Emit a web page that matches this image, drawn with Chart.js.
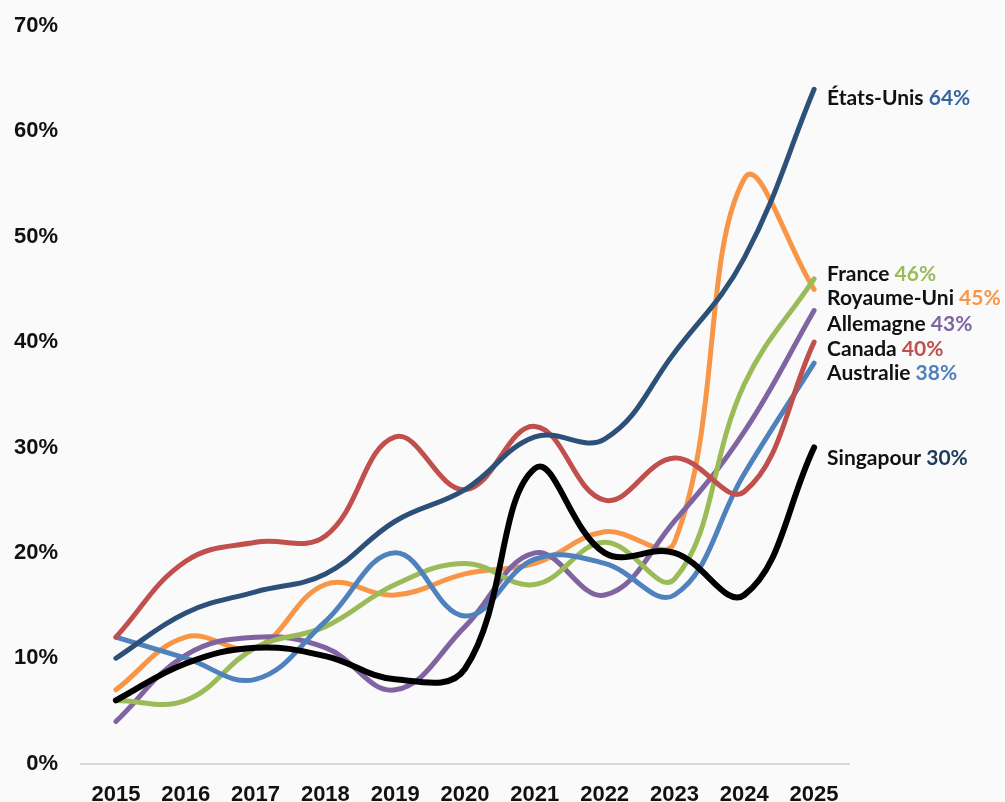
<!DOCTYPE html>
<html>
<head>
<meta charset="utf-8">
<script src="https://cdn.jsdelivr.net/npm/chart.js@4.4.0/dist/chart.umd.min.js"></script>
<style>
  html,body{margin:0;padding:0;background:#fafafa;}
  #wrap{width:1005px;height:802px;}
</style>
</head>
<body>
<div id="wrap"><canvas id="trend_chart"></canvas></div>
<script>
const years = ['2015','2016','2017','2018','2019','2020','2021','2022','2023','2024','2025'];
const yTicks = [0,10,20,30,40,50,60,70];

const singapour  = [6, 9.5, 11, 10.2, 8, 9, 28, 20, 20, 16, 30];
const etatsUnis  = [10, 14.3, 16.3, 18, 23, 26, 31, 30.8, 39, 48, 64];
const canada     = [12, 19.2, 21, 21.6, 31, 26, 32, 25, 29, 25.8, 40];
const australie  = [12, 10, 8, 13.5, 20, 14, 19.4, 19, 16, 27.5, 38];
const france     = [6, 6, 11, 13, 17, 19, 17, 21, 17.5, 36, 46];
const allemagne  = [4, 10.3, 12, 11, 7, 13, 20, 16, 23, 31.5, 43];
const royaumeUni = [7, 12, 11, 17, 16, 18, 19, 22, 21, 55.5, 45];

const names  = ['Singapour','États-Unis','Canada','Australie','France','Allemagne','Royaume-Uni'];
const series = [singapour, etatsUnis, canada, australie, france, allemagne, royaumeUni];
const lineColors = ['#000000','#2d5079','#c0504d','#4f81bd','#9bbb59','#8064a2','#f79646'];
const valueColors = ['#1c3a5c','#34659d','#c0504d','#4f81bd','#9bbb59','#8064a2','#f79646'];
const lineWidths = [6,5,5,5,5,5,5];
// label nudges (px) so the end labels do not collide
const labelNudge = [11,9,7,10,-5,14,9];

const endLabels = {
    id: 'endLabels',
    afterDatasetsDraw(chart){
        const ctx = chart.ctx;
        ctx.save();
        ctx.font = 'bold 21px Lato';
        ctx.textBaseline = 'middle';
        ctx.textAlign = 'left';
        chart.data.datasets.forEach((ds,i)=>{
            const meta = chart.getDatasetMeta(i);
            const pt = meta.data[meta.data.length-1];
            const x = pt.x + 13, y = pt.y + labelNudge[i];
            const name = names[i] + ' ';
            ctx.fillStyle = '#111111';
            ctx.fillText(name, x, y);
            const w = ctx.measureText(name).width;
            ctx.fillStyle = valueColors[i];
            ctx.fillText(Math.round(ds.data[ds.data.length-1]) + '%', x + w, y);
        });
        ctx.restore();
    }
};

new Chart(document.getElementById('trend_chart'), {
    type: 'line',
    data: {
        labels: years,
        datasets: series.map((s,i)=>({
            label: names[i],
            data: s,
            borderColor: lineColors[i],
            borderWidth: lineWidths[i],
            borderCapStyle: 'round',
            borderJoinStyle: 'round',
            pointRadius: 0,
            tension: 0.4,
            fill: false
        }))
    },
    options: {
        responsive: true,
        maintainAspectRatio: false,
        animation: false,
        layout: {padding: {top: 26, right: 156, bottom: -24, left: 0}},
        plugins: {
            legend: {display: false},
            tooltip: {enabled: false}
        },
        scales: {
            x: {
                offset: true,
                grid: {display: false, drawTicks: false},
                border: {display: true, color: '#d9d9d9', width: 2},
                ticks: {
                    color: '#111111',
                    padding: 18,
                    font: {family: 'Liberation Sans', size: 22, weight: 'bold'}
                }
            },
            y: {
                min: 0,
                max: 70,
                afterBuildTicks: scale => { scale.ticks = yTicks.map(v=>({value: v})); },
                afterFit: scale => { scale.width = 81; scale.paddingTop = 0; scale.paddingBottom = 0; },
                grid: {display: false, drawTicks: false},
                border: {display: false},
                ticks: {
                    color: '#111111',
                    padding: 23,
                    callback: v => v + '%',
                    font: {family: 'Liberation Sans', size: 22, weight: 'bold'}
                }
            }
        }
    },
    plugins: [endLabels]
});
</script>
</body>
</html>
